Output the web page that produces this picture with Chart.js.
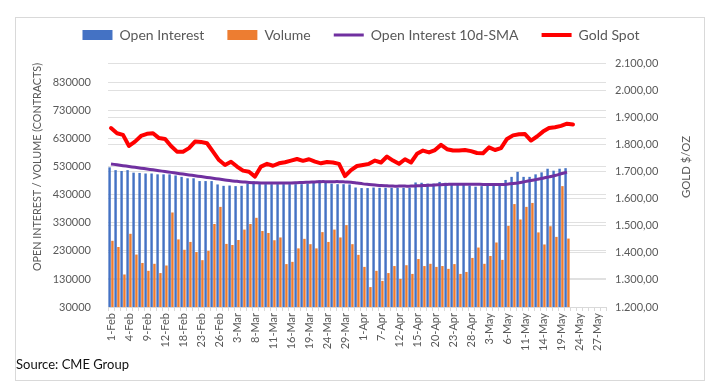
<!DOCTYPE html>
<html lang="en">
<head>
    <meta charset="UTF-8">
    <title>Gold futures - Open interest and volume</title>
    <script src="https://cdn.jsdelivr.net/npm/chart.js"></script>
    <style>
        html, body { margin: 0; padding: 0; background: #fff; }
        .wrap { position: relative; width: 720px; height: 390px; }
        .frame { position: absolute; left: 15px; top: 17px; width: 690px; height: 364px; border: 1px solid #d9d9d9; box-sizing: border-box; }
        .source { position: absolute; left: 16px; top: 356px; font: 13px Lato, sans-serif; line-height: 16px; color: #111; }
        canvas { position: absolute; left: 0; top: 0; }
    </style>
</head>
<body>
<div class="wrap">
    <div class="frame"></div>
    <canvas id="goldChart" width="720" height="390"></canvas>
    <div class="source">Source: CME Group</div>
</div>

<script>
    // business days, 1-Feb to 28-May
    var dates = [
        '1-Feb', '2-Feb', '3-Feb', '4-Feb', '5-Feb', '8-Feb', '9-Feb', '10-Feb', '11-Feb', '12-Feb',
        '16-Feb', '17-Feb', '18-Feb', '19-Feb', '22-Feb', '23-Feb', '24-Feb', '25-Feb', '26-Feb',
        '1-Mar', '2-Mar', '3-Mar', '4-Mar', '5-Mar', '8-Mar', '9-Mar', '10-Mar', '11-Mar', '12-Mar',
        '15-Mar', '16-Mar', '17-Mar', '18-Mar', '19-Mar', '22-Mar', '23-Mar', '24-Mar', '25-Mar', '26-Mar',
        '29-Mar', '30-Mar', '31-Mar',
        '1-Apr', '5-Apr', '6-Apr', '7-Apr', '8-Apr', '9-Apr', '12-Apr', '13-Apr', '14-Apr', '15-Apr',
        '16-Apr', '19-Apr', '20-Apr', '21-Apr', '22-Apr', '23-Apr', '26-Apr', '27-Apr', '28-Apr', '29-Apr', '30-Apr',
        '3-May', '4-May', '5-May', '6-May', '7-May', '10-May', '11-May', '12-May', '13-May', '14-May',
        '17-May', '18-May', '19-May', '20-May', '21-May', '24-May', '25-May', '26-May', '27-May', '28-May'
    ];

    var openInterest = [
        528000, 518000, 515000, 518000, 509000, 508000, 506000, 506000, 503000, 503000,
        503000, 499000, 494000, 489000, 489000, 479000, 479000, 479000, 467000, 462000,
        463000, 461000, 462000, 470000, 478000, 468000, 468000, 468000, 468000, 468000,
        468000, 468000, 468000, 470000, 473000, 482000, 473000, 470000, 468000, 468000,
        467000, 456000, 454000, 454000, 456000, 455000, 455000, 455000, 455000, 455000,
        455000, 474000, 473000, 470000, 470000, 476000, 473000, 470000, 468000, 468000,
        463000, 459000, 461000, 468000, 468000, 468000, 483000, 494000, 512000, 494000,
        494000, 503000, 510000, 523000, 516000, 523000, 525000
    ];

    var volume = [
        266000, 244000, 146000, 291000, 217000, 187000, 159000, 184000, 151000, 178000,
        367000, 271000, 234000, 262000, 226000, 197000, 230000, 326000, 387000, 255000,
        251000, 269000, 306000, 326000, 348000, 301000, 294000, 268000, 278000, 183000,
        191000, 239000, 273000, 254000, 239000, 297000, 262000, 306000, 278000, 322000,
        254000, 216000, 173000, 101000, 159000, 123000, 151000, 176000, 130000, 179000,
        148000, 201000, 176000, 184000, 173000, 176000, 166000, 183000, 148000, 155000,
        205000, 242000, 184000, 212000, 260000, 198000, 319000, 397000, 342000, 387000,
        401000, 296000, 253000, 318000, 280000, 461000, 274000
    ];

    var oiSma = [
        540000, 537000, 534000, 531000, 528000, 525000, 522000, 519000, 516000, 513000,
        510000, 507000, 504000, 501000, 498000, 495000, 492000, 489000, 486000, 483000,
        480000, 478000, 476000, 474000, 473000, 472000, 472000, 472000, 472000, 472000,
        472000, 473000, 474000, 475000, 476000, 477000, 477000, 477000, 477000, 476000,
        475000, 472000, 469000, 467000, 465000, 463000, 462000, 461000, 461000, 461000,
        461000, 462000, 463000, 464000, 465000, 466000, 467000, 468000, 468000, 468000,
        468000, 468000, 467000, 467000, 467000, 467000, 468000, 470000, 473000, 477000,
        481000, 485000, 489000, 494000, 499000, 505000, 511000
    ];

    var goldSpot = [
        1860, 1841, 1835, 1794, 1810, 1831, 1839, 1841, 1823, 1820,
        1794, 1773, 1773, 1786, 1810, 1809, 1804, 1773, 1742, 1724,
        1736, 1718, 1703, 1699, 1681, 1718, 1728, 1721, 1730, 1734,
        1740, 1746, 1739, 1745, 1736, 1730, 1735, 1733, 1728, 1683,
        1705, 1720, 1724, 1728, 1740, 1733, 1755, 1740, 1728, 1745,
        1733, 1765, 1777, 1770, 1779, 1798, 1782, 1777, 1777, 1779,
        1775, 1768, 1767, 1789, 1779, 1786, 1820, 1833, 1837, 1838,
        1814, 1829, 1847, 1860, 1863, 1868, 1876, 1873
    ];

    var volTicks = [30000, 130000, 230000, 330000, 430000, 530000, 630000, 730000, 830000];
    var goldTicks = [1200, 1300, 1400, 1500, 1600, 1700, 1800, 1900, 2000, 2100];

    // 2100 -> "2.100,00"
    function fmtGold(v) {
        var parts = v.toFixed(2).split('.');
        return parts[0].replace(/\B(?=(\d{3})+(?!\d))/g, '.') + ',' + parts[1];
    }

    Chart.defaults.font.family = 'Lato, sans-serif';
    Chart.defaults.color = '#595959';

    // more room under the legend
    var legendGap = {
        id: 'legendGap',
        beforeInit: function (chart) {
            var fit = chart.legend.fit;
            chart.legend.fit = function () {
                fit.bind(chart.legend)();
                this.height += 11;
            };
        }
    };

    // axis titles, centred like the original
    var axisTitles = {
        id: 'axisTitles',
        afterDraw: function (chart) {
            var ctx = chart.ctx;
            function vText(text, x, y, maxW) {
                ctx.save();
                ctx.translate(x, y);
                ctx.rotate(-Math.PI / 2);
                ctx.fillText(text, 0, 0, maxW);
                ctx.restore();
            }
            ctx.save();
            ctx.fillStyle = '#595959';
            ctx.font = '12px Lato, sans-serif';
            ctx.textAlign = 'center';
            ctx.textBaseline = 'middle';
            vText('OPEN INTEREST / VOLUME (CONTRACTS)', 37, 167, 208);
            vText('GOLD $/OZ', 686, 167, 62);
            ctx.restore();
        }
    };

    var chart = new Chart(document.getElementById('goldChart'), {
        data: {
            labels: dates,
            datasets: [{
                type: 'bar',
                label: 'Open Interest',
                data: openInterest,
                backgroundColor: '#4472C4',
                yAxisID: 'y',
                order: 2,
                pointStyle: 'rect',
                categoryPercentage: 0.95,
                barPercentage: 0.85
            }, {
                type: 'bar',
                label: 'Volume',
                data: volume,
                backgroundColor: '#ED7D31',
                yAxisID: 'y',
                order: 3,
                pointStyle: 'rect',
                categoryPercentage: 0.95,
                barPercentage: 0.85
            }, {
                type: 'line',
                label: 'Open Interest 10d-SMA',
                data: oiSma,
                borderColor: '#7030A0',
                backgroundColor: '#7030A0',
                borderWidth: 3,
                pointRadius: 0,
                tension: 0.3,
                yAxisID: 'y',
                order: 1,
                pointStyle: 'line'
            }, {
                type: 'line',
                label: 'Gold Spot',
                data: goldSpot,
                borderColor: '#FF0000',
                backgroundColor: '#FF0000',
                borderWidth: 4,
                borderJoinStyle: 'round',
                borderCapStyle: 'round',
                pointRadius: 0,
                tension: 0,
                yAxisID: 'y1',
                order: 0,
                pointStyle: 'line'
            }]
        },
        options: {
            responsive: false,
            animation: false,
            layout: { padding: { left: 16, right: 14, top: 5, bottom: 38 } },
            plugins: {
                tooltip: { enabled: false },
                legend: {
                    position: 'top',
                    labels: {
                        usePointStyle: true,
                        pointStyleWidth: 30,
                        boxHeight: 10,
                        padding: 23,
                        color: '#595959',
                        font: { size: 14 },
                        sort: function (a, b) { return a.datasetIndex - b.datasetIndex; }
                    }
                }
            },
            scales: {
                x: {
                    offset: true,
                    grid: { display: true, drawOnChartArea: false, drawTicks: true, tickLength: 4, color: '#d9d9d9', offset: true },
                    border: { display: true, color: '#d9d9d9' },
                    ticks: {
                        autoSkip: false,
                        maxRotation: 90,
                        minRotation: 90,
                        padding: 2,
                        font: { size: 11 },
                        callback: function (v, i) { return i % 3 === 0 ? dates[i] : ''; }
                    },
                    afterFit: function (s) { s.height = 45; }
                },
                y: {
                    position: 'left',
                    min: 30000,
                    max: 900000,
                    afterBuildTicks: function (s) { s.ticks = volTicks.map(function (v) { return { value: v }; }); },
                    grid: { color: '#e0e0e0', drawTicks: false },
                    border: { display: false },
                    ticks: { padding: 17, font: { size: 11 }, callback: function (v) { return String(v); } },
                    afterFit: function (s) { s.width = 92; }
                },
                y1: {
                    position: 'right',
                    min: 1200,
                    max: 2100,
                    afterBuildTicks: function (s) { s.ticks = goldTicks.map(function (v) { return { value: v }; }); },
                    grid: { color: '#e0e0e0', drawTicks: false },
                    border: { display: false },
                    ticks: { padding: 9, font: { size: 11 }, callback: function (v) { return fmtGold(v); } },
                    afterFit: function (s) { s.width = 100; }
                }
            }
        },
        plugins: [legendGap, axisTitles]
    });
</script>
</body>
</html>
